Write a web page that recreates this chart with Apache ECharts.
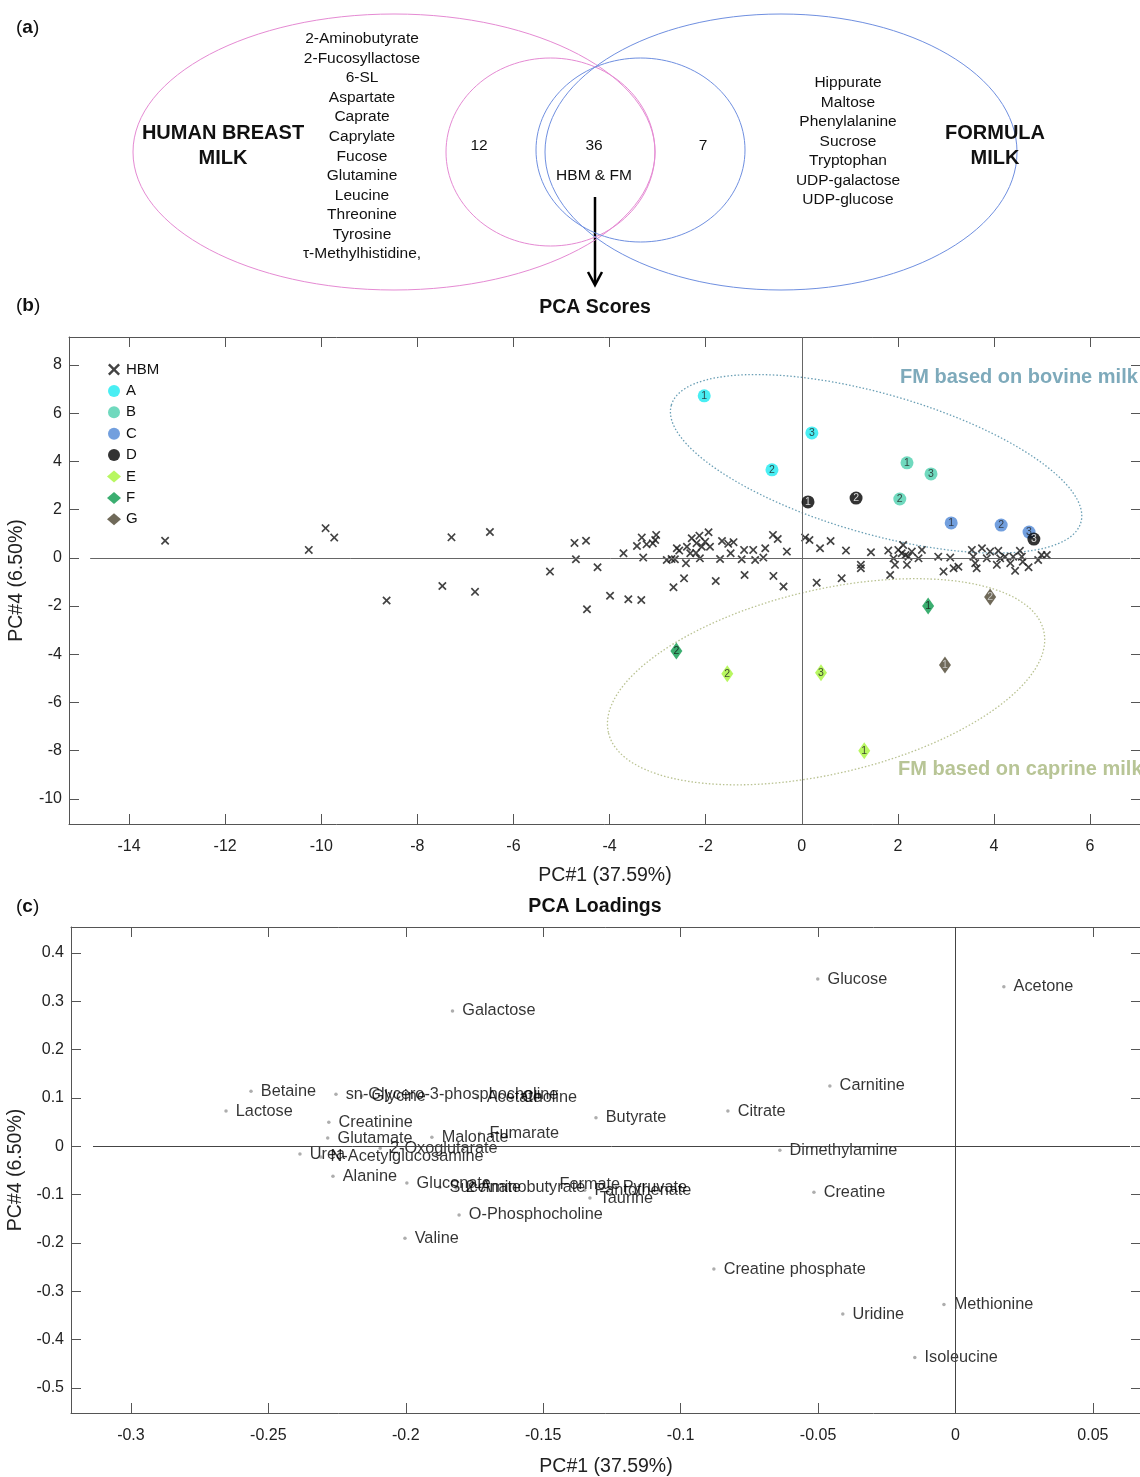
<!DOCTYPE html>
<html><head><meta charset="utf-8">
<script src="https://cdn.jsdelivr.net/npm/echarts@6/dist/echarts.min.js"></script>
<style>html,body{margin:0;padding:0;background:#fff}#c{width:1140px;height:1477px}</style>
</head><body><div id="c"></div>
<script>
// ---------- Venn data ----------
const vennCounts = { hbmOnly: 12, shared: 36, fmOnly: 7 };
const hbmOnlyList = ['2-Aminobutyrate','2-Fucosyllactose','6-SL','Aspartate','Caprate','Caprylate','Fucose','Glutamine','Leucine','Threonine','Tyrosine','τ-Methylhistidine,'];
const fmOnlyList = ['Hippurate','Maltose','Phenylalanine','Sucrose','Tryptophan','UDP-galactose','UDP-glucose'];

// ---------- PCA scores ----------
const scoreTicksX = [-14,-12,-10,-8,-6,-4,-2,0,2,4,6];
const scoreTicksY = [-10,-8,-6,-4,-2,0,2,4,6,8];
const hbmPC1 = [-13.25,-10.26,-9.91,-9.73,-8.64,-7.48,-7.29,-6.80,-6.49,
 -5.24,-4.73,-4.49,-4.70,-4.25,-4.47,-3.99,-3.61,-3.34,-3.71,-3.30,-3.43,-3.33,-3.23,-3.05,-3.03,
 -2.81,-2.71,-2.60,-2.64,-2.41,-2.45,-2.67,-2.39,-2.29,-2.19,-2.13,-2.08,-2.01,-1.94,-1.91,-2.12,-2.32,
 -1.79,-1.70,-1.66,-1.53,-1.42,-1.48,-1.25,-1.20,-1.19,-1.01,-0.97,-0.80,-0.76,-0.59,-0.38,-0.60,-0.50,-0.31,
 0.07,0.16,0.38,0.60,0.31,0.83,0.92,1.23,1.23,1.44,1.84,1.80,1.91,1.94,2.01,2.08,2.11,2.19,2.22,2.29,2.43,2.50,
 2.84,2.95,3.09,3.16,3.26,3.54,3.57,3.61,3.64,3.75,3.85,4.09,4.23,4.34,4.44,4.54,4.60,4.72,4.92,4.99,5.10,
 4.40,4.13,4.06,3.92,4.58,2.16,-2.55,-2.20,-3.10];
const hbmPC4 = [0.71,0.33,1.23,0.84,-1.77,-1.17,0.85,-1.41,1.07,
 -0.57,0.62,0.71,-0.06,-0.39,-2.13,-1.57,-1.72,-1.75,0.19,0.01,0.49,0.84,0.56,0.74,0.95,
 -0.09,-0.05,0.40,-0.06,-0.22,-0.85,-1.22,0.46,0.81,0.61,0.92,0.46,0.67,1.06,0.46,-0.02,0.19,
 -0.96,-0.05,0.70,0.58,0.65,0.19,-0.06,0.33,-0.71,0.33,-0.09,0.01,0.40,-0.75,-1.19,0.95,0.78,0.26,
 0.84,0.74,0.40,0.70,-1.03,-0.85,0.30,-0.29,-0.43,0.23,-0.71,0.30,-0.02,-0.29,0.33,0.19,0.53,-0.29,0.05,0.26,-0.02,0.33,
 0.05,-0.57,0.01,-0.43,-0.37,0.33,0.05,-0.22,-0.43,0.40,-0.02,0.29,0.05,-0.22,-0.54,0.29,-0.16,-0.39,-0.09,0.12,0.12,
 0.05,-0.02,-0.29,0.26,0.05,0.12,0.30,0.20,0.60];
// FM samples: [PC1, PC4, replicate]
const fmA = [[-2.03,6.72,1],[-0.62,3.65,2],[0.21,5.18,3]];
const fmB = [[2.19,3.94,1],[2.04,2.44,2],[2.69,3.48,3]];
const fmC = [[3.11,1.45,1],[4.15,1.36,2],[4.73,1.07,3]];
const fmD = [[0.13,2.32,1],[1.13,2.48,2],[4.83,0.78,3]];
const fmE = [[1.30,-8.00,1],[-1.55,-4.81,2],[0.40,-4.77,3]];
const fmF = [[2.63,-2.00,1],[-2.61,-3.86,2]];
const fmG = [[2.98,-4.44,1],[3.92,-1.62,2]];

// ---------- PCA loadings ----------
const loadTicksX = [-0.3,-0.25,-0.2,-0.15,-0.1,-0.05,0,0.05];
const loadTicksY = [-0.5,-0.4,-0.3,-0.2,-0.1,0,0.1,0.2,0.3,0.4];
const loadNames = ['Glucose','Acetone','Galactose','Betaine','Lactose','sn-Glycero-3-phosphocholine','Glycine','Acetate','Choline',
 'Creatinine','Glutamate','Malonate','Fumarate','Butyrate','Citrate','Carnitine','Dimethylamine','Creatine','Urea','N-Acetylglucosamine',
 '2-Oxoglutarate','Alanine','Gluconate','Succinate','2-Aminobutyrate','Formate','Pantothenate','Pyruvate','Taurine','O-Phosphocholine',
 'Valine','Creatine phosphate','Uridine','Methionine','Isoleucine'];
const loadPC1 = [-0.0501,0.0176,-0.183,-0.2563,-0.2654,-0.2254,-0.216,-0.1741,-0.1613,
 -0.228,-0.2284,-0.1905,-0.1731,-0.1308,-0.0828,-0.0457,-0.0639,-0.0515,-0.2385,-0.2309,
 -0.2093,-0.2265,-0.1996,-0.1876,-0.1817,-0.1476,-0.1349,-0.1246,-0.133,-0.1806,
 -0.2003,-0.0879,-0.041,-0.0042,-0.0148];
const loadPC4 = [0.346,0.330,0.280,0.114,0.073,0.108,0.104,0.100,0.100,
 0.050,0.017,0.019,0.027,0.059,0.073,0.125,-0.008,-0.095,-0.016,-0.022,
 -0.004,-0.062,-0.076,-0.085,-0.086,-0.078,-0.091,-0.085,-0.107,-0.142,
 -0.190,-0.254,-0.347,-0.327,-0.437];

const FONT = "'Liberation Sans', Arial, sans-serif";
const AX = '#555';
const XMARK = 'path://M0,1.4L1.4,0L5,3.6L8.6,0L10,1.4L6.4,5L10,8.6L8.6,10L5,6.4L1.4,10L0,8.6L3.6,5Z';

const chart = echarts.init(document.getElementById('c'), null, {renderer:'canvas'});

function boxAxes(gridIndex, min, max, ticks, isX, name, nameGap, labelSize) {
  const main = {
    gridIndex, type:'value', min, max, scale:true,
    position: isX ? 'bottom' : 'left',
    name, nameLocation:'middle', nameGap, nameRotate: isX ? 0 : 90,
    nameTextStyle:{fontFamily:FONT, fontSize:19.5, color:'#222'},
    axisLine:{show:true, onZero:false, lineStyle:{color:AX, width:1}},
    axisTick:{show:true, inside:true, length:10, customValues:ticks, lineStyle:{color:AX}},
    axisLabel:{show:true, customValues:ticks, fontFamily:FONT, fontSize:labelSize, color:'#222', margin: isX ? 15 : 7},
    splitLine:{show:false}
  };
  const opp = {
    gridIndex, type:'value', min, max, scale:true,
    position: isX ? 'top' : 'right',
    axisLine:{show:true, onZero:false, lineStyle:{color:AX, width:1}},
    axisTick:{show:true, inside:true, length:10, customValues:ticks, lineStyle:{color:AX}},
    axisLabel:{show:false}, splitLine:{show:false}
  };
  return [main, opp];
}

const xs1 = boxAxes(0, -15.25, 7.06, scoreTicksX, true, 'PC#1 (37.59%)', 42, 16);
const ys1 = boxAxes(0, -11.04, 9.16, scoreTicksY, false, 'PC#4 (6.50%)', 42, 16);
const xs2 = boxAxes(1, -0.3218, 0.0675, loadTicksX, true, 'PC#1 (37.59%)', 44, 16);
const ys2 = boxAxes(1, -0.5517, 0.4538, loadTicksY, false, 'PC#4 (6.50%)', 44, 16);

function fmSeries(name, data, symbol, color, numColor) {
  return {
    name, type:'scatter', xAxisIndex:0, yAxisIndex:0, data, symbol,
    symbolSize: symbol === 'diamond' ? [12,17] : 13,
    itemStyle:{color, borderWidth:0},
    label:{show:true, position:'inside', formatter:p=>p.value[2], fontFamily:FONT, fontSize:10.5, color:numColor},
    emphasis:{disabled:true}, z:5
  };
}

const option = {
  animation:false,
  backgroundColor:'#fff',
  textStyle:{fontFamily:FONT},
  grid:[
    {left:69, top:337, width:1072, height:487, outerBoundsMode:'none', containLabel:false},
    {left:71, top:927, width:1070, height:486, outerBoundsMode:'none', containLabel:false}
  ],
  xAxis:[xs1[0], xs1[1], xs2[0], xs2[1]],
  yAxis:[ys1[0], ys1[1], ys2[0], ys2[1]],
  legend:{
    orient:'vertical', left:102, top:357, itemWidth:14, itemHeight:12, itemGap:6.4,
    data:['HBM','A','B','C','D','E','F','G'],
    textStyle:{fontFamily:FONT, fontSize:15, color:'#111'}, selectedMode:false
  },
  series:[
    {
      name:'HBM', type:'scatter', xAxisIndex:0, yAxisIndex:0,
      data: hbmPC1.map((x,i)=>[x, hbmPC4[i]]),
      symbol: XMARK, symbolSize:8.5,
      itemStyle:{color:'#222', opacity:0.85},
      emphasis:{disabled:true}, z:3,
      markLine:{silent:true, symbol:'none', label:{show:false}, animation:false,
        lineStyle:{color:'#666', width:1, type:'solid'},
        data:[[{coord:[-14.81,0]},{coord:[6.84,0]}],[{coord:[0,-11.04]},{coord:[0,9.16]}]]}
    },
    fmSeries('A', fmA, 'circle', '#1ceaf0', '#222'),
    fmSeries('B', fmB, 'circle', '#4ccfae', '#222'),
    fmSeries('C', fmC, 'circle', '#4f87d6', '#222'),
    fmSeries('D', fmD, 'circle', '#000000', '#fff'),
    fmSeries('E', fmE, 'diamond', '#a6f53a', '#222'),
    fmSeries('F', fmF, 'diamond', '#0a9a4c', '#111'),
    fmSeries('G', fmG, 'diamond', '#4b4430', '#ddd'),
    {
      name:'Loadings', type:'scatter', xAxisIndex:2, yAxisIndex:2,
      data: loadNames.map((n,i)=>({name:n, value:[loadPC1[i], loadPC4[i]]})),
      symbol:'circle', symbolSize:3.5, itemStyle:{color:'#999'},
      label:{show:true, position:'right', distance:8, formatter:'{b}', fontFamily:FONT, fontSize:16.3, color:'#000'},
      labelLayout:{hideOverlap:false},
      emphasis:{disabled:true},
      markLine:{silent:true, symbol:'none', label:{show:false}, animation:false,
        lineStyle:{color:'#444', width:1, type:'solid'},
        data:[[{coord:[-0.3138,0]},{coord:[0.0635,0]}],[{coord:[0,-0.5517]},{coord:[0,0.4538]}]]}
    }
  ]
};
chart.setOption(option);

// ---------- annotations ----------
function ell(cx, cy, rx, ry, color, extra) {
  return Object.assign({type:'ellipse', x:cx, y:cy, shape:{cx:0, cy:0, rx, ry},
    style:{fill:'none', stroke:color, lineWidth:1}, silent:true, z:1}, extra||{});
}
function txt(x, y, text, size, opts) {
  return {type:'text', x, y, silent:true, z:10,
    style:Object.assign({text, fontFamily:FONT, fontSize:size, fill:'#111', align:'center', verticalAlign:'middle'}, opts||{})};
}
const PINK = '#e58ad3', BLUE = '#6f8fe0';
const g = [];
// Venn
g.push(ell(394,152,261,138,PINK));
g.push(ell(550.5,152,104.5,94,PINK));
g.push(ell(640.5,150,104.5,92,BLUE));
g.push(ell(781,152,236,138,BLUE));
hbmOnlyList.forEach((t,i)=>g.push(txt(362, 39 + i*19.55, t, 15.5)));
fmOnlyList.forEach((t,i)=>g.push(txt(848, 83 + i*19.5, t, 15.5)));
g.push(txt(223,146,'HUMAN BREAST\nMILK',20,{fontWeight:'bold', lineHeight:25}));
g.push(txt(995,146,'FORMULA\nMILK',20,{fontWeight:'bold', lineHeight:25}));
g.push(txt(479,146,String(vennCounts.hbmOnly),15.5));
g.push(txt(594,146,String(vennCounts.shared),15.5));
g.push(txt(703,146,String(vennCounts.fmOnly),15.5));
g.push(txt(594,176,'HBM & FM',15.5));
g.push({type:'line', shape:{x1:595,y1:197,x2:595,y2:284}, style:{stroke:'#000', lineWidth:2.5}, silent:true});
g.push({type:'polyline', shape:{points:[[588,272],[595,285],[602,272]]}, style:{stroke:'#000', lineWidth:2.5, fill:'none'}, silent:true});
// panel letters and titles
const panel = (y, l) => ({type:'text', x:16, y, silent:true, style:{text:'{n|(}{b|'+l+'}{n|)}', verticalAlign:'middle',
  rich:{n:{fontFamily:FONT, fontSize:19, fill:'#111'}, b:{fontFamily:FONT, fontSize:19, fontWeight:'bold', fill:'#111'}}}});
g.push(panel(28,'a')); g.push(panel(306,'b')); g.push(panel(907,'c'));
g.push(txt(595,308,'PCA Scores',19.5,{fontWeight:'bold'}));
g.push(txt(595,907,'PCA Loadings',19.5,{fontWeight:'bold'}));
// group ellipses in scores plot, anchored at data centres
const bovC = chart.convertToPixel({gridIndex:0}, [1.547, 3.90]);
const capC = chart.convertToPixel({gridIndex:0}, [0.506, -5.14]);
g.push(ell(bovC[0], bovC[1], 213, 70, '#6a9fb5', {rotation:-0.279, style:{fill:'none', stroke:'#6a9fb5', lineWidth:1.3, lineDash:[1.5,2]}}));
g.push(ell(capC[0], capC[1], 223.5, 92, '#b9c291', {rotation:0.230, style:{fill:'none', stroke:'#b9c291', lineWidth:1.3, lineDash:[1.5,2]}}));
g.push(txt(900,377,'FM based on bovine milk',20,{fontWeight:'bold', fill:'#7eaabb', align:'left'}));
g.push(txt(898,769,'FM based on caprine milk',20,{fontWeight:'bold', fill:'#b8c596', align:'left'}));
chart.setOption({graphic:{elements:g}});
</script></body></html>
